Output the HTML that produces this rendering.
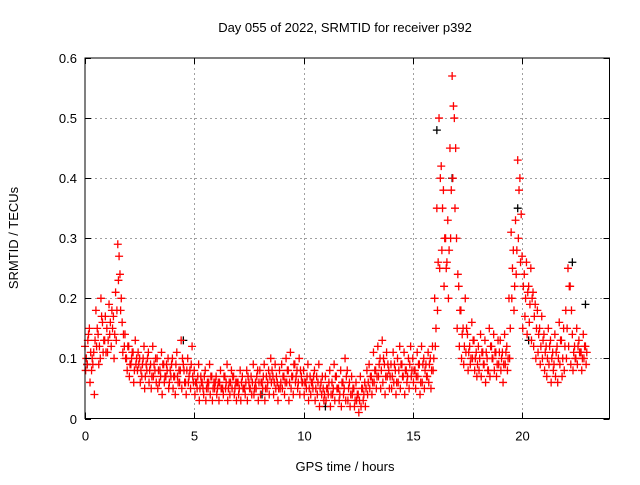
<!DOCTYPE html>
<html><head><meta charset="utf-8"><style>
body{margin:0;background:#fff}
svg text{font-family:"Liberation Sans",sans-serif;font-size:13px;fill:#000}
</style></head><body>
<svg id="chart" width="640" height="480" viewBox="0 0 640 480" xmlns="http://www.w3.org/2000/svg">
<rect width="640" height="480" fill="#fff"/>
<text x="345" y="32" text-anchor="middle">Day 055 of 2022, SRMTID for receiver p392</text>
<text x="345" y="471" text-anchor="middle">GPS time / hours</text>
<text x="0" y="0" transform="translate(18,238) rotate(-90)" text-anchor="middle">SRMTID / TECUs</text>
<g id="grid"></g>
<g id="marks"></g>
<rect x="85" y="58" width="524.5" height="360.5" fill="none" stroke="#000" stroke-width="1"/>
<g id="ticks"></g>
</svg>
<script>
const xTicks=[0,5,10,15,20];
const yTicks=[0,0.1,0.2,0.3,0.4,0.5,0.6];
const yTickLabels=["0","0.1","0.2","0.3","0.4","0.5","0.6"];
const seriesA=[.12,.09,.15,.08,.11,.18,.14,.10,.16,.13,
.15,.19,.12,.17,.21,.29,.24,.16,.12,.10,
.12,.09,.11,.13,.08,.10,.07,.12,.09,.11,
.09,.12,.08,.10,.06,.11,.09,.07,.10,.08,
.10,.07,.11,.08,.13,.09,.06,.10,.08,.12,
.08,.06,.09,.07,.05,.08,.06,.09,.07,.06,
.07,.06,.08,.05,.07,.09,.06,.08,.07,.06,
.06,.08,.07,.05,.08,.06,.07,.09,.06,.08,
.08,.06,.09,.07,.08,.10,.07,.09,.06,.08,
.09,.07,.10,.08,.11,.07,.09,.08,.10,.07,
.08,.06,.09,.07,.06,.08,.07,.09,.06,.05,
.07,.05,.08,.06,.09,.07,.05,.08,.06,.10,
.08,.06,.07,.05,.06,.04,.07,.05,.06,.08,
.09,.07,.11,.08,.12,.10,.13,.09,.11,.08,
.09,.11,.08,.10,.12,.09,.11,.08,.10,.12,
.10,.08,.11,.09,.12,.10,.09,.11,.10,.12,
.20,.35,.50,.42,.38,.30,.33,.45,.57,.50,
.30,.22,.18,.15,.20,.14,.12,.16,.13,.11,
.12,.14,.11,.13,.10,.15,.12,.14,.11,.13,
.13,.11,.14,.12,.20,.31,.28,.33,.43,.40,
.27,.24,.26,.22,.25,.21,.19,.18,.15,.17,
.14,.12,.15,.13,.11,.14,.12,.16,.13,.15,
.18,.25,.22,.14,.12,.15,.13,.11,.14,.12];
const seriesB=[.08,.13,.06,.10,.04,.12,.09,.20,.11,.17,
.11,.14,.18,.10,.13,.23,.18,.11,.14,.08,
.07,.10,.06,.09,.11,.06,.09,.05,.08,.06,
.05,.07,.10,.05,.08,.04,.06,.09,.05,.07,
.05,.04,.07,.06,.05,.08,.04,.06,.05,.07,
.04,.05,.03,.06,.04,.03,.05,.04,.03,.05,
.04,.03,.05,.04,.05,.03,.04,.05,.04,.03,
.04,.03,.05,.04,.03,.05,.04,.04,.05,.03,
.04,.05,.03,.05,.04,.06,.04,.05,.03,.05,
.05,.04,.06,.03,.05,.04,.06,.05,.04,.06,
.04,.05,.03,.04,.05,.03,.04,.02,.04,.03,
.03,.04,.02,.04,.03,.05,.03,.02,.04,.03,
.03,.02,.04,.02,.03,.01,.02,.03,.02,.04,
.05,.04,.06,.05,.07,.05,.06,.04,.07,.05,
.05,.06,.04,.06,.05,.07,.04,.06,.05,.07,
.06,.05,.07,.04,.06,.05,.07,.06,.05,.08,
.12,.18,.25,.28,.22,.25,.20,.30,.40,.35,
.15,.12,.10,.09,.11,.08,.09,.10,.08,.07,
.08,.07,.09,.06,.08,.07,.10,.08,.07,.09,
.08,.06,.09,.08,.10,.20,.18,.24,.30,.26,
.15,.17,.14,.16,.13,.12,.10,.11,.09,.10,
.08,.07,.09,.06,.08,.07,.06,.09,.07,.08,
.10,.12,.09,.08,.10,.09,.11,.08,.10,.09];
const seriesC=[.10,.14,.11,.09,.13,.15,.12,.17,.13,.11,
.13,.16,.15,.14,.18,.27,.20,.14,.10,.12,
.09,.11,.08,.10,.09,.08,.10,.07,.10,.08,
.07,.09,.06,.08,.07,.09,.07,.08,.06,.09,
.07,.09,.06,.08,.10,.06,.08,.07,.09,.06,
.06,.07,.05,.06,.07,.05,.06,.07,.05,.06,
.05,.06,.05,.07,.06,.05,.06,.07,.05,.06,
.05,.06,.05,.06,.07,.05,.06,.05,.07,.06,
.06,.07,.05,.06,.07,.08,.06,.07,.05,.06,
.07,.06,.08,.06,.07,.09,.07,.06,.08,.06,
.06,.07,.05,.06,.07,.05,.06,.05,.07,.04,
.05,.06,.04,.05,.07,.05,.04,.06,.05,.07,
.05,.04,.05,.03,.04,.03,.05,.04,.05,.06,
.07,.06,.08,.07,.09,.08,.10,.07,.09,.07,
.07,.09,.06,.08,.09,.07,.08,.07,.09,.08,
.08,.07,.09,.06,.09,.08,.07,.09,.08,.10,
.15,.26,.40,.35,.30,.26,.28,.38,.52,.45,
.24,.18,.14,.12,.15,.11,.10,.13,.10,.09,
.10,.11,.09,.11,.08,.12,.10,.11,.09,.11,
.10,.09,.11,.10,.15,.25,.22,.28,.38,.34,
.22,.20,.21,.19,.20,.17,.15,.14,.12,.13,
.11,.10,.12,.10,.09,.11,.10,.13,.10,.12,
.15,.22,.18,.11,.10,.12,.11,.10,.12,.11];
const blackTimes=[0.1,4.5,8.1,11.0,16.1,16.8,19.8,20.3,22.3,22.9];
const blackValues=[0.09,0.13,0.04,0.02,0.48,0.40,0.35,0.13,0.26,0.19];
const X0=85,X1=609.5,Y0=418.5,Y1=58,XMAX=24,YMAX=0.6;
function sx(v){return X0+(X1-X0)*v/XMAX;}
function sy(v){return Y0-(Y0-Y1)*v/YMAX;}
const NS="http://www.w3.org/2000/svg";
const grid=document.getElementById('grid'),ticks=document.getElementById('ticks'),marks=document.getElementById('marks');
function line(p,x1,y1,x2,y2,st,dash){const l=document.createElementNS(NS,'line');l.setAttribute('x1',x1);l.setAttribute('y1',y1);l.setAttribute('x2',x2);l.setAttribute('y2',y2);l.setAttribute('stroke',st);if(dash)l.setAttribute('stroke-dasharray',dash);p.appendChild(l);return l;}
function txt(x,y,s,anchor){const t=document.createElementNS(NS,'text');t.setAttribute('x',x);t.setAttribute('y',y);t.setAttribute('text-anchor',anchor);t.textContent=s;ticks.appendChild(t);return t;}
yTicks.forEach((v,i)=>{const y=Math.round(sy(v))+0.5;
 if(v>0&&v<YMAX){const g=line(grid,X0,y,X1,y,'#a0a0a0','2,3');

}
 line(ticks,X0,y,X0+6,y,'#000');line(ticks,X1-6,y,X1,y,'#000');
 const t=txt(X0-8,y+4.5,yTickLabels[i],'end');

});
xTicks.forEach(v=>{const x=Math.round(sx(v))+0.5;
 if(v>0){const g=line(grid,x,Y1,x,Y0,'#a0a0a0','2,3');

}
 line(ticks,x,Y0,x,Y0-6,'#000');line(ticks,x,Y1,x,Y1+6,'#000');
 const t=txt(x,Y0+22,String(v),'middle');

});
function plus(t,v,col,nm){const x=sx(t),y=sy(v);const p=document.createElementNS(NS,'path');
 p.setAttribute('d','M'+(x-4)+' '+y+'H'+(x+4)+'M'+x+' '+(y-4)+'V'+(y+4));
 p.setAttribute('stroke',col);p.setAttribute('stroke-width','1.3');
 
 
 marks.appendChild(p);}
blackTimes.forEach((t,i)=>plus(t,blackValues[i],'#000','black-point'));
seriesA.forEach((v,i)=>plus(i*0.1,v,'#ff0000','red-point'));
seriesB.forEach((v,i)=>plus(i*0.1+0.03,v,'#ff0000','red-point'));
seriesC.forEach((v,i)=>plus(i*0.1+0.06,v,'#ff0000','red-point'));
</script>
</body></html>
